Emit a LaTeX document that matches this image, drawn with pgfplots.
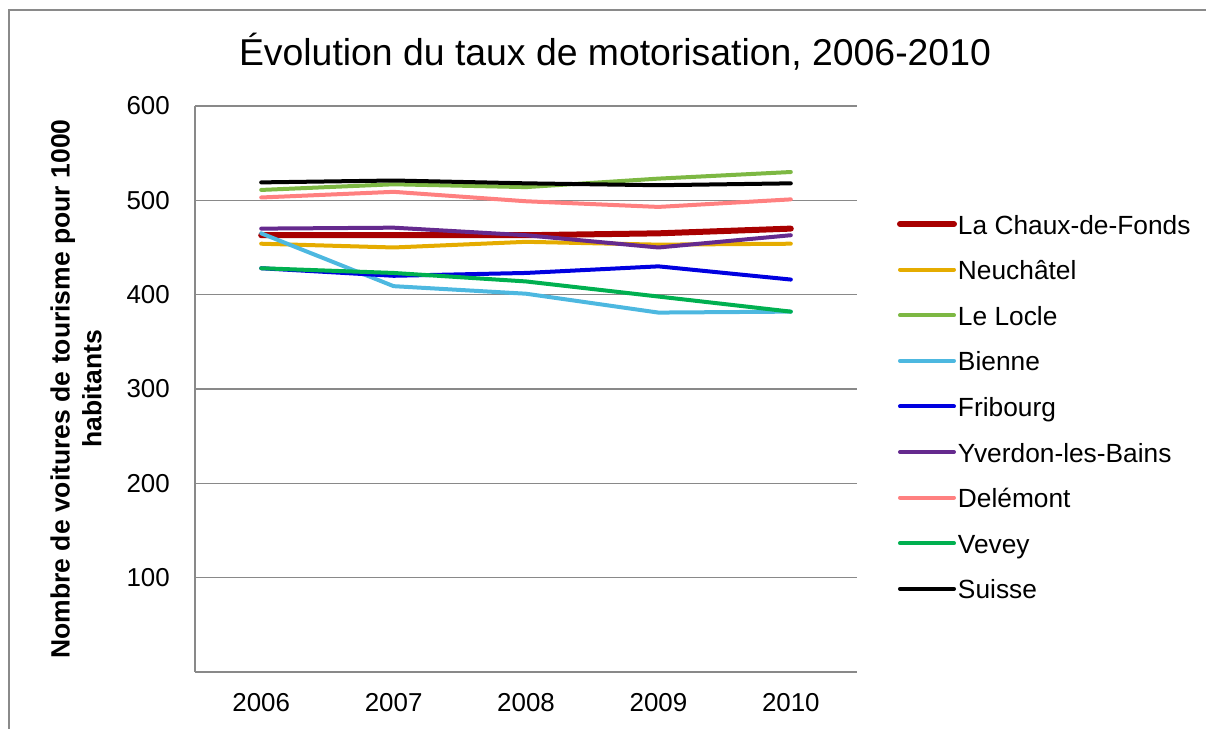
\documentclass[border=0pt]{standalone}
\usepackage{pgfplots}
\pgfplotsset{compat=1.18}
\usepackage{fontspec}
\setmainfont{Liberation Sans}
\definecolor{cChaux}{HTML}{A80000}
\definecolor{cNeuch}{HTML}{E5AC00}
\definecolor{cLocle}{HTML}{7DB843}
\definecolor{cBienne}{HTML}{4DB8E0}
\definecolor{cFrib}{HTML}{0000E0}
\definecolor{cYverdon}{HTML}{652A8E}
\definecolor{cDelem}{HTML}{FF8080}
\definecolor{cVevey}{HTML}{00B050}
\definecolor{gridGray}{HTML}{898989}
\definecolor{frameGray}{HTML}{8A8A8A}
\begin{document}
\begin{tikzpicture}[x=1bp,y=1bp]
\useasboundingbox (0,0) rectangle (1206,729);
\draw[color=frameGray, line width=2bp] (9,-20) -- (9,718.5) -- (1230,718.5);
\node[font=\fontsize{37.5}{44}\selectfont, anchor=base, inner sep=0pt] at (615,663) {Évolution du taux de motorisation, 2006-2010};
\node[rotate=90, align=center, font=\fontsize{26.6}{32}\selectfont\bfseries, inner sep=0pt] at (76,340) {Nombre de voitures de tourisme pour 1000\\habitants};
\begin{axis}[
  at={(195bp,57bp)}, anchor=south west,
  scale only axis, width=662bp, height=566bp,
  xmin=-0.5, xmax=4.5, ymin=0, ymax=600,
  xtick={0,1,2,3,4}, xticklabels={2006,2007,2008,2009,2010},
  ytick={100,200,300,400,500,600},
  axis x line*=bottom, axis y line*=left,
  axis line style={draw=gridGray, line width=2bp},
  ymajorgrids, grid style={draw=gridGray, line width=1.6bp},
  major tick length=0pt,
  /pgf/number format/assume math mode=true,
  tick label style={font=\fontsize{26}{30}\selectfont, inner sep=0pt},
  xticklabel style={anchor=north, yshift=-21bp},
  yticklabel style={anchor=east, xshift=-25bp},
  clip=false,
  legend cell align=left,
  legend style={at={(1.0604,0.8127)}, anchor=north west, draw=none, fill=none,
    inner sep=0pt, outer sep=0pt, row sep=21.6bp, column sep=1bp,
    font=\fontsize{26.4}{30}\selectfont,
    nodes={inner sep=0pt, text height=22bp, text depth=2bp}},
  legend image code/.code={\draw[#1, line cap=round] (0bp,0bp) -- (54bp,0bp);},
  every axis plot/.append style={line width=4bp, line cap=round, line join=round, mark=none},
]
\addplot[cChaux, line width=6bp] coordinates {(0,463) (1,463) (2,463) (3,465) (4,470)};
\addlegendentry{La Chaux-de-Fonds}
\addplot[cNeuch] coordinates {(0,454) (1,450) (2,456) (3,453) (4,454)};
\addlegendentry{Neuchâtel}
\addplot[cLocle] coordinates {(0,511) (1,517) (2,514) (3,523) (4,530)};
\addlegendentry{Le Locle}
\addplot[cBienne] coordinates {(0,465) (1,409) (2,401) (3,381) (4,382)};
\addlegendentry{Bienne}
\addplot[cFrib] coordinates {(0,428) (1,420) (2,423) (3,430) (4,416)};
\addlegendentry{Fribourg}
\addplot[cYverdon] coordinates {(0,470) (1,471) (2,463) (3,450) (4,463)};
\addlegendentry{Yverdon-les-Bains}
\addplot[cDelem] coordinates {(0,503) (1,509) (2,499) (3,493) (4,501)};
\addlegendentry{Delémont}
\addplot[cVevey] coordinates {(0,428) (1,423) (2,414) (3,398) (4,382)};
\addlegendentry{Vevey}
\addplot[black] coordinates {(0,519) (1,521) (2,518) (3,516) (4,518)};
\addlegendentry{Suisse}
\end{axis}
\end{tikzpicture}
\end{document}
